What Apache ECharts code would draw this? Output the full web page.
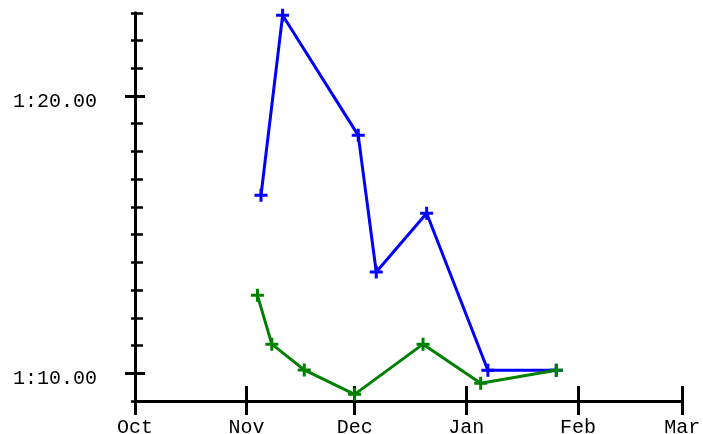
<!DOCTYPE html>
<html><head><meta charset="utf-8">
<script src="https://cdn.jsdelivr.net/npm/echarts@6/dist/echarts.min.js"></script>
<style>html,body{margin:0;padding:0;background:#fff}#c{width:703px;height:434px}</style>
</head><body><div id="c"></div>
<script>
const monthTicks = ['2019-10-01','2019-11-01','2019-12-01','2020-01-01','2020-02-01','2020-03-01'];
const monthLabels = ['Oct','Nov','Dec','Jan','Feb','Mar'];
const blueDates = ['2019-11-05','2019-11-11','2019-12-02','2019-12-07','2019-12-21','2020-01-07','2020-01-26'];
const blueTimes = [76.42, 82.91, 78.58, 73.65, 75.77, 70.11, 70.11];
const greenDates = ['2019-11-04','2019-11-08','2019-11-17','2019-12-01','2019-12-20','2020-01-05','2020-01-26'];
const greenTimes = [72.81, 71.05, 70.12, 69.24, 71.05, 69.64, 70.11];
const yMajorTicks = [70, 80];
const yMin = 69, yMax = 83;

function ts(s){const p=s.split('-').map(Number);return new Date(p[0],p[1]-1,p[2]).getTime();}
function fmtTime(v){const m=Math.floor(v/60);const s=v-m*60;return m+':'+(s<10?'0':'')+s.toFixed(2);}
const monthTs = monthTicks.map(ts);
function monthName(v){let bi=0,bd=Infinity;monthTs.forEach((t,i)=>{const d=Math.abs(t-v);if(d<bd){bd=d;bi=i;}});return monthLabels[bi];}
const yAll = []; for(let v=yMin; v<=yMax; v++) yAll.push(v);

const FONT = {fontFamily:'"Liberation Mono","Courier New",monospace', fontSize:20, color:'#000'};
const CROSS = 'path://M5,0H8V5H13V8H8V13H5V8H0V5H5Z';

function xAx(extra){
  return Object.assign({type:'value', min:monthTs[0], max:monthTs[monthTs.length-1], position:'bottom',
    splitLine:{show:false}, axisLine:{show:false}, axisLabel:{show:false}}, extra);
}
function yAx(extra){
  return Object.assign({type:'value', min:yMin, max:yMax, interval:1, position:'left',
    splitLine:{show:false}, axisLine:{show:false}, axisLabel:{show:false}}, extra);
}

const chart = echarts.init(document.getElementById('c'));
chart.setOption({
  animation:false,
  backgroundColor:'#fff',
  grid:{left:135, right:20.7, top:12.8, bottom:33, containLabel:false, outerBoundsMode:'none'},
  xAxis:[
    xAx({axisLine:{show:true, lineStyle:{color:'#000', width:3}},
         axisTick:{show:true, inside:true, length:15, customValues:monthTs, lineStyle:{color:'#000', width:3}}}),
    xAx({axisTick:{show:true, inside:false, length:14, customValues:monthTs, lineStyle:{color:'#000', width:3}},
         axisLabel:Object.assign({show:true, customValues:monthTs, margin:17, formatter:monthName}, FONT)})
  ],
  yAxis:[
    yAx({axisLine:{show:true, lineStyle:{color:'#000', width:3}},
         axisTick:{show:true, inside:true, length:8, customValues:yAll, lineStyle:{color:'#000', width:2.5}}}),
    yAx({axisTick:{show:true, inside:false, length:4, customValues:yAll, lineStyle:{color:'#000', width:2.5}}}),
    yAx({axisTick:{show:true, inside:false, length:10, customValues:yMajorTicks, lineStyle:{color:'#000', width:3}},
         axisLabel:Object.assign({show:true, customValues:yMajorTicks, margin:38, formatter:fmtTime, verticalAlign:'top', lineHeight:11}, FONT)}),
    yAx({axisTick:{show:true, inside:true, length:10, customValues:yMajorTicks, lineStyle:{color:'#000', width:3}}})
  ],
  series:[
    {type:'line', xAxisIndex:0, yAxisIndex:0, data:blueDates.map((d,i)=>[ts(d), blueTimes[i]]),
     symbol:CROSS, symbolSize:13, color:'#0000ff', itemStyle:{color:'#0000ff'}, lineStyle:{color:'#0000ff', width:3}},
    {type:'line', xAxisIndex:0, yAxisIndex:0, data:greenDates.map((d,i)=>[ts(d), greenTimes[i]]),
     symbol:CROSS, symbolSize:13, color:'#008000', itemStyle:{color:'#008000'}, lineStyle:{color:'#008000', width:3}}
  ]
});
</script></body></html>
